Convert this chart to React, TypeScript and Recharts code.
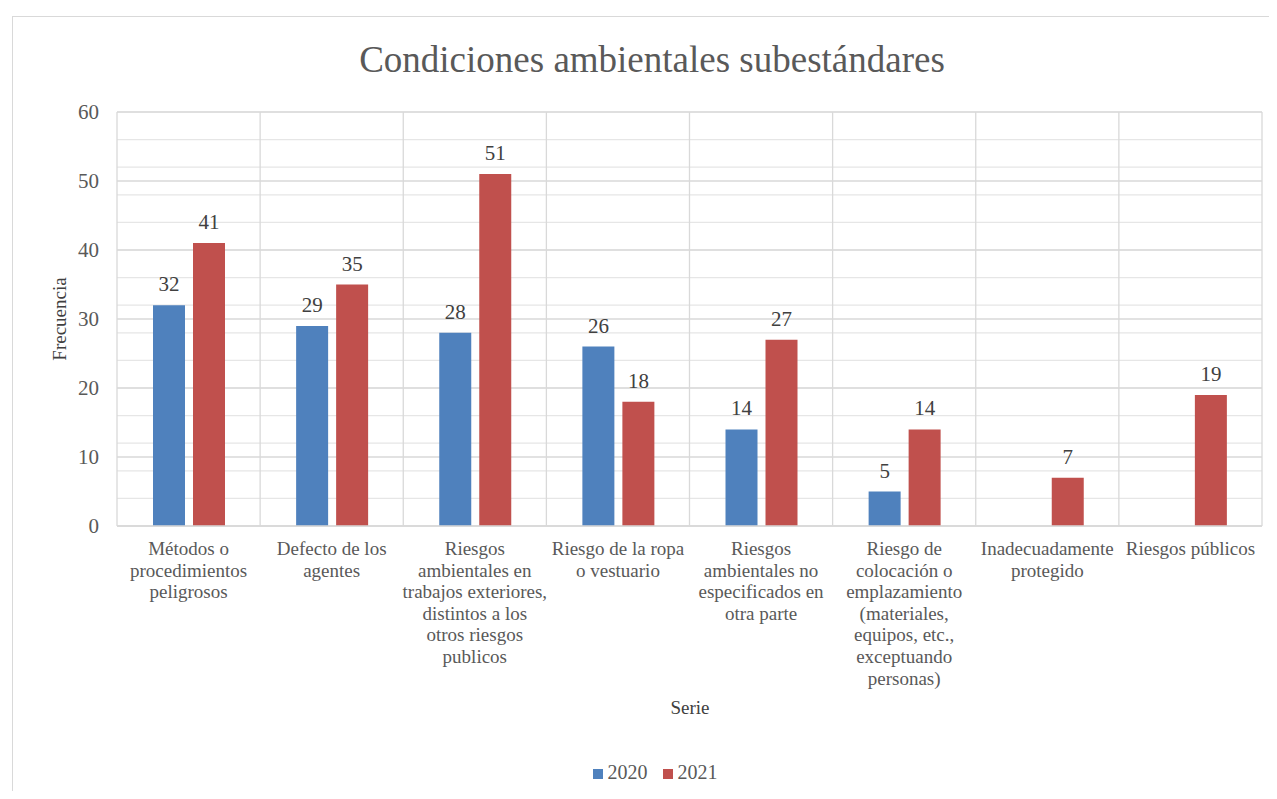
import { BarChart, Bar, XAxis, YAxis, CartesianGrid, Legend, LabelList } from 'recharts';

const categories = [
  'Métodos o\nprocedimientos\npeligrosos',
  'Defecto de los\nagentes',
  'Riesgos\nambientales en\ntrabajos exteriores,\ndistintos a los\notros riesgos\npublicos',
  'Riesgo de la ropa\no vestuario',
  'Riesgos\nambientales no\nespecificados en\notra parte',
  'Riesgo de\ncolocación o\nemplazamiento\n(materiales,\nequipos, etc.,\nexceptuando\npersonas)',
  'Inadecuadamente\nprotegido',
  'Riesgos públicos',
];
const values2020 = [32, 29, 28, 26, 14, 5, null, null];
const values2021 = [41, 35, 51, 18, 27, 14, 7, 19];
const majorTicks = [0, 10, 20, 30, 40, 50, 60];
const minorTicks = [0, 2, 4, 6, 8, 10, 12, 14, 16, 18, 20, 22, 24, 26, 28, 30, 32, 34, 36, 38, 40, 42, 44, 46, 48, 50, 52, 54, 56, 58, 60];
const separatorTicks = [0, 1, 2, 3, 4, 5, 6, 7, 8];

const data = categories.map((name, i) => ({
  name,
  pos: i + 0.5,
  y2020: values2020[i],
  y2021: values2021[i],
}));

const FONT = '"Liberation Serif", "Times New Roman", serif';
const TEXT = '#595959';

function CategoryTick({ x, y, payload }: any) {
  const lines = String(payload.value).split('\n');
  return (
    <text x={x} y={y + 27} textAnchor="middle" fill={TEXT} fontSize={19} fontFamily={FONT}>
      {lines.map((l, i) => (
        <tspan key={i} x={x} dy={i === 0 ? 0 : 21.6}>{l}</tspan>
      ))}
    </text>
  );
}

function LegendContent({ payload }: any) {
  return (
    <div style={{ height: 24, lineHeight: '24px', paddingLeft: 8, textAlign: 'center', fontSize: 20, fontFamily: FONT, color: TEXT }}>
      {(payload || []).map((p: any, i: number) => (
        <span key={i} style={{ display: 'inline-block', marginLeft: i === 0 ? 0 : 15 }}>
          <span style={{ display: 'inline-block', width: 10, height: 10, background: p.color, marginRight: 5 }} />
          {p.value}
        </span>
      ))}
    </div>
  );
}

export default function App() {
  return (
    <div style={{ width: 1261, height: 783, overflow: 'hidden', position: 'relative', fontFamily: FONT }}>
      <div
        style={{
          position: 'absolute',
          left: 4,
          top: 8,
          width: 1278,
          height: 800,
          border: '1px solid #d9d9d9',
          background: '#fff',
        }}
      >
        <div
          style={{
            position: 'absolute', left: 0, top: 24, width: '100%', textAlign: 'center',
            fontSize: 37, lineHeight: '37px', color: TEXT,
          }}
        >
          Condiciones ambientales subestándares
        </div>
        <div
          style={{
            position: 'absolute', left: 47, top: 302, transform: 'translate(-50%, -50%) rotate(-90deg)',
            fontSize: 19, color: '#404040', whiteSpace: 'nowrap',
          }}
        >
          Frecuencia
        </div>
        <div
          style={{
            position: 'absolute', left: 627, top: 680, width: 100, textAlign: 'center',
            fontSize: 19, lineHeight: '22px', color: '#404040',
          }}
        >
          Serie
        </div>
        <BarChart
          width={1276}
          height={782}
          data={data}
          margin={{ top: 95, right: 27, left: 44, bottom: 20 }}
          barSize={32}
          barGap={8}
        >
          <XAxis xAxisId="sep" type="number" dataKey="pos" domain={[0, 8]} ticks={separatorTicks} hide />
          <CartesianGrid vertical={false} horizontalValues={minorTicks} stroke="#e6e6e6" strokeWidth={1.2} />
          <CartesianGrid vertical={false} horizontalValues={majorTicks} stroke="#d9d9d9" strokeWidth={1.3} />
          <CartesianGrid xAxisId="sep" horizontal={false} stroke="#d9d9d9" strokeWidth={1.3} />
          <XAxis
            dataKey="name"
            interval={0}
            tickLine={false}
            tickSize={0}
            height={229}
            axisLine={{ stroke: '#d9d9d9', strokeWidth: 1.3 }}
            tick={<CategoryTick />}
          />
          <YAxis
            domain={[0, 60]}
            ticks={majorTicks}
            width={60}
            axisLine={false}
            tickLine={false}
            tickSize={0}
            tickMargin={18}
            tick={{ fill: TEXT, fontSize: 21, fontFamily: FONT }}
          />
          <Legend
            verticalAlign="bottom"
            content={<LegendContent />}
            wrapperStyle={{ top: 743, bottom: 'auto', left: 0, width: 1276 }}
          />
          <Bar dataKey="y2020" name="2020" fill="#4F81BD" isAnimationActive={false}>
            <LabelList dataKey="y2020" position="top" offset={14} fill="#404040" fontSize={21} fontFamily={FONT} />
          </Bar>
          <Bar dataKey="y2021" name="2021" fill="#C0504D" isAnimationActive={false}>
            <LabelList dataKey="y2021" position="top" offset={14} fill="#404040" fontSize={21} fontFamily={FONT} />
          </Bar>
        </BarChart>
      </div>
    </div>
  );
}
